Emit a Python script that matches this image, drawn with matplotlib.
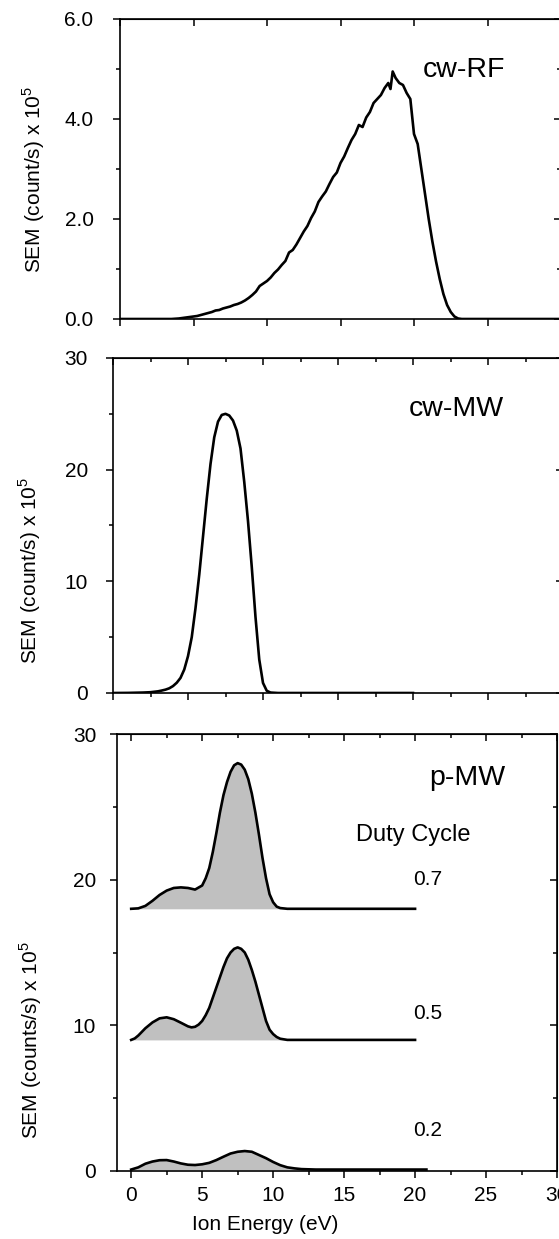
import numpy as np
import matplotlib
matplotlib.use("Agg")
import matplotlib.pyplot as plt
from matplotlib.ticker import MultipleLocator, NullLocator, FormatStrFormatter

plt.rcParams['font.family'] = ['Liberation Sans', 'DejaVu Sans']
plt.rcParams['mathtext.fontset'] = 'custom'
plt.rcParams['mathtext.rm'] = 'Liberation Sans'

# cw-RF ion energy distribution (x 1e5 counts/s)
rf_energy = [0.0, 3.5, 3.75, 4.0, 4.25, 4.5, 4.75, 5.0, 5.25, 5.5, 5.75, 6.0, 6.25,
             6.5, 6.75, 7.0, 7.25, 7.5, 7.75, 8.0, 8.25, 8.5, 8.75, 9.0, 9.25,
             9.5, 9.75, 10.0, 10.25, 10.5, 10.75, 11.0, 11.25, 11.5, 11.75, 12.0,
             12.25, 12.5, 12.75, 13.0, 13.25, 13.5, 13.75, 14.0, 14.25, 14.5,
             14.75, 15.0, 15.25, 15.5, 15.75, 16.0, 16.25, 16.5, 16.75, 17.0,
             17.25, 17.5, 17.75, 18.0, 18.25, 18.4, 18.55, 18.75, 19.0, 19.25,
             19.5, 19.75, 20.0, 20.25, 20.5, 20.75, 21.0, 21.25, 21.5, 21.75,
             22.0, 22.25, 22.5, 22.75, 23.0, 23.25, 30.0]
rf_signal = [0.0, 0.0, 0.005, 0.01, 0.02, 0.03, 0.04, 0.05, 0.06, 0.08, 0.10, 0.12,
             0.14, 0.17, 0.18, 0.21, 0.23, 0.25, 0.28, 0.30, 0.33, 0.37, 0.42,
             0.48, 0.55, 0.66, 0.71, 0.76, 0.83, 0.92, 0.99, 1.08, 1.16, 1.33,
             1.38, 1.49, 1.62, 1.75, 1.86, 2.02, 2.15, 2.34, 2.45, 2.55, 2.70,
             2.84, 2.93, 3.12, 3.25, 3.42, 3.58, 3.70, 3.88, 3.84, 4.03, 4.14,
             4.32, 4.40, 4.48, 4.62, 4.72, 4.60, 4.95, 4.82, 4.72, 4.68, 4.52,
             4.40, 3.70, 3.50, 3.00, 2.50, 2.00, 1.55, 1.15, 0.80, 0.50, 0.28,
             0.14, 0.05, 0.01, 0.0, 0.0]

# cw-MW ion energy distribution
mw_energy = [0.0, 1.0, 2.0, 2.5, 3.0, 3.25, 3.5, 3.75, 4.0, 4.25, 4.5, 4.75, 5.0,
             5.25, 5.5, 5.75, 6.0, 6.25, 6.5, 6.75, 7.0, 7.25, 7.5, 7.75, 8.0,
             8.25, 8.5, 8.75, 9.0, 9.25, 9.5, 9.75, 10.0, 10.25, 10.5, 11.0, 20.0]
mw_signal = [0.0, 0.01, 0.04, 0.07, 0.15, 0.22, 0.30, 0.42, 0.62, 0.92, 1.35, 2.1,
             3.3, 5.0, 7.6, 10.6, 14.0, 17.4, 20.5, 22.9, 24.3, 24.9, 25.0, 24.85,
             24.4, 23.5, 21.9, 18.9, 15.4, 11.3, 6.8, 3.0, 0.9, 0.2, 0.04, 0.0,
             0.0]

# pulsed MW, one trace per duty cycle, stacked with an offset
duty_cycles = ['0.7', '0.5', '0.2']
offsets = [18.0, 9.0, 0.1]
label_y = [20.0, 10.8, 2.8]

dc07_energy = [0.0, 0.5, 1.0, 1.5, 2.0, 2.5, 3.0, 3.5, 4.0, 4.5, 5.0, 5.25, 5.5,
               5.75, 6.0, 6.25, 6.5, 6.75, 7.0, 7.25, 7.5, 7.75, 8.0, 8.25, 8.5,
               8.75, 9.0, 9.25, 9.5, 9.75, 10.0, 10.25, 10.5, 11.0, 20.0]
dc07_signal = [0.0, 0.03, 0.2, 0.55, 0.95, 1.25, 1.43, 1.47, 1.43, 1.32, 1.6, 2.1,
               2.8, 3.9, 5.2, 6.6, 7.8, 8.7, 9.4, 9.85, 10.0, 9.9, 9.55, 8.9,
               7.9, 6.6, 5.1, 3.5, 2.1, 1.0, 0.45, 0.15, 0.05, 0.0, 0.0]

dc05_energy = [0.0, 0.25, 0.5, 0.75, 1.0, 1.5, 2.0, 2.5, 3.0, 3.5, 4.0, 4.25, 4.5,
               4.75, 5.0, 5.25, 5.5, 5.75, 6.0, 6.25, 6.5, 6.75, 7.0, 7.25, 7.5,
               7.75, 8.0, 8.25, 8.5, 8.75, 9.0, 9.25, 9.5, 9.75, 10.0, 10.25,
               10.5, 11.0, 20.0]
dc05_signal = [0.0, 0.1, 0.3, 0.55, 0.8, 1.2, 1.48, 1.55, 1.42, 1.18, 0.93, 0.86,
               0.9, 1.05, 1.3, 1.7, 2.2, 2.9, 3.6, 4.3, 5.0, 5.6, 6.0, 6.25, 6.35,
               6.25, 6.0, 5.5, 4.8, 4.0, 3.1, 2.2, 1.3, 0.7, 0.4, 0.2, 0.08, 0.0,
               0.0]

dc02_energy = [0.0, 0.5, 1.0, 1.5, 2.0, 2.5, 3.0, 3.5, 4.0, 4.5, 5.0, 5.5, 6.0,
               6.5, 7.0, 7.5, 8.0, 8.5, 9.0, 9.5, 10.0, 10.5, 11.0, 11.5, 12.0,
               13.0, 20.8]
dc02_signal = [0.0, 0.15, 0.4, 0.55, 0.64, 0.65, 0.55, 0.42, 0.33, 0.31, 0.36,
               0.46, 0.65, 0.88, 1.1, 1.22, 1.27, 1.22, 1.0, 0.78, 0.52, 0.3,
               0.15, 0.08, 0.03, 0.0, 0.0]

pulsed_energy = [dc07_energy, dc05_energy, dc02_energy]
pulsed_signal = [dc07_signal, dc05_signal, dc02_signal]

W, H = 559, 1239
fig = plt.figure(figsize=(W / 100, H / 100), dpi=100)


def px_axes(left, right, top, bottom):
    return fig.add_axes([left / W, 1 - bottom / H, (right - left) / W, (bottom - top) / H])


def style(ax, xmajor, xminor, ymajor, yminor, ypad):
    for s in ax.spines.values():
        s.set_linewidth(1.2)
    ax.xaxis.set_major_locator(MultipleLocator(xmajor))
    ax.xaxis.set_minor_locator(MultipleLocator(xminor) if xminor else NullLocator())
    ax.yaxis.set_major_locator(MultipleLocator(ymajor))
    ax.yaxis.set_minor_locator(MultipleLocator(yminor))
    ax.tick_params(which='both', direction='out', width=1.1, labelsize=15)
    ax.tick_params(which='major', length=5)
    ax.tick_params(which='minor', length=3)
    ax.tick_params(axis='y', pad=ypad)
    ax.tick_params(axis='x', pad=6)
    # mirrored ticks on top/right point the same way as the outer ones
    top = ax.secondary_xaxis('top')
    top.xaxis.set_major_locator(MultipleLocator(xmajor))
    top.xaxis.set_minor_locator(MultipleLocator(xminor) if xminor else NullLocator())
    top.tick_params(which='both', direction='in', labeltop=False, width=1.1)
    top.tick_params(which='major', length=5)
    top.tick_params(which='minor', length=3)
    right = ax.secondary_yaxis('right')
    right.yaxis.set_major_locator(MultipleLocator(ymajor))
    right.yaxis.set_minor_locator(MultipleLocator(yminor))
    right.tick_params(which='both', direction='in', labelright=False, width=1.1)
    right.tick_params(which='major', length=5)
    right.tick_params(which='minor', length=3)


# cw-RF
ax1 = px_axes(120, 561, 19, 319)
ax1.plot(rf_energy, rf_signal, color='black', lw=1.9)
ax1.set_xlim(0, 30)
ax1.set_ylim(0, 6)
style(ax1, 5, None, 2, 1, 14)
ax1.tick_params(axis='x', labelbottom=False)
ax1.yaxis.set_major_formatter(FormatStrFormatter('%.1f'))
ax1.text(23.4, 4.98, 'cw-RF', fontsize=20.5, ha='center', va='center')

# cw-MW
ax2 = px_axes(113, 563, 358, 693)
ax2.plot(mw_energy, mw_signal, color='black', lw=1.9)
ax2.set_xlim(0, 30)
ax2.set_ylim(0, 30)
style(ax2, 5, 2.5, 10, 5, 13)
ax2.tick_params(axis='x', labelbottom=False)
ax2.text(22.9, 25.4, 'cw-MW', fontsize=20.5, ha='center', va='center')

# pulsed MW
ax3 = px_axes(117, 557, 734, 1171)
for e, s, off, dc, ly in zip(pulsed_energy, pulsed_signal, offsets, duty_cycles, label_y):
    e = np.array(e)
    s = np.array(s)
    ax3.fill_between(e, off, off + s, color='#c0c0c0', lw=0)
    ax3.plot(e, off + s, color='black', lw=1.9)
    ax3.text(20.9, ly, dc, fontsize=15, ha='center', va='center')
ax3.set_xlim(-1, 30)
ax3.set_ylim(0, 30)
style(ax3, 5, 2.5, 10, 5, 10)
ax3.text(23.7, 27.0, 'p-MW', fontsize=20.5, ha='center', va='center')
ax3.text(19.9, 23.1, 'Duty Cycle', fontsize=17, ha='center', va='center')
ax3.set_xlabel('Ion Energy (eV)', fontsize=15)
ax3.xaxis.set_label_coords(0.336, -0.10)

fig.text(34 / W, 1 - 179 / H, r'SEM (count/s) x 10$^{\mathrm{5}}$', rotation=90,
         fontsize=15, ha='center', va='center')
fig.text(30 / W, 1 - 570 / H, r'SEM (count/s) x 10$^{\mathrm{5}}$', rotation=90,
         fontsize=15, ha='center', va='center')
fig.text(31 / W, 1 - 1040 / H, r'SEM (counts/s) x 10$^{\mathrm{5}}$', rotation=90,
         fontsize=15, ha='center', va='center')

fig.savefig('out.png', dpi=100)
